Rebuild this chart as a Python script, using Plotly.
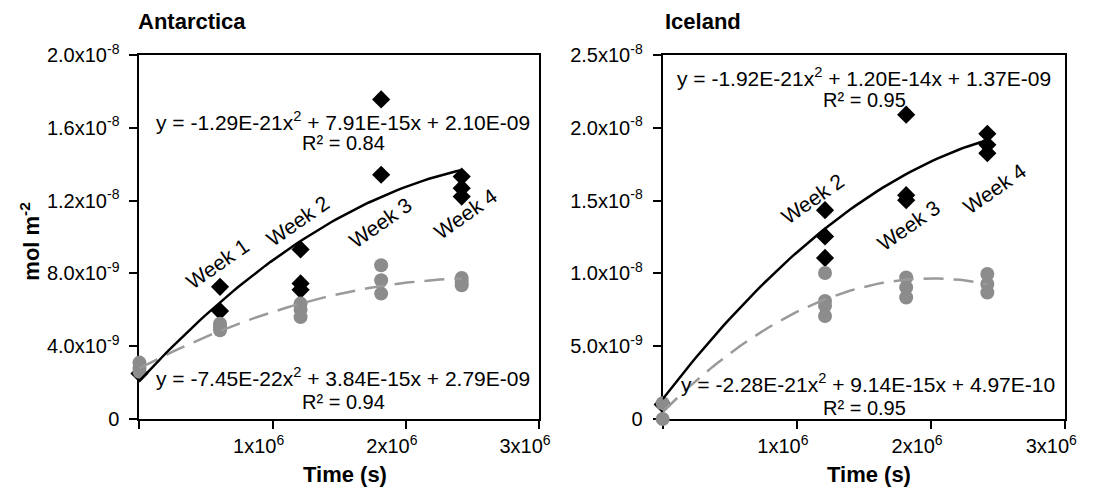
import plotly.graph_objects as go

# ---------------- data ----------------
week_time = [0, 604800, 1209600, 1814400, 2419200]

# Antarctica
ant_black_t = [0, 604800, 604800, 1209600, 1209600, 1209600, 1814400, 1814400, 2419200, 2419200, 2419200]
ant_black_y = [2.5e-9, 7.26e-9, 5.93e-9, 9.32e-9, 7.45e-9, 7.1e-9, 17.56e-9, 13.42e-9, 13.32e-9, 12.68e-9, 12.22e-9]
ant_grey_t = [0, 0, 0, 604800, 604800, 604800, 1209600, 1209600, 1209600, 1814400, 1814400, 1814400, 2419200, 2419200, 2419200]
ant_grey_y = [3.1e-9, 2.8e-9, 2.6e-9, 5.24e-9, 5.05e-9, 4.87e-9, 6.34e-9, 6.0e-9, 5.6e-9, 8.45e-9, 7.62e-9, 6.89e-9, 7.75e-9, 7.55e-9, 7.35e-9]
ant_black_fit = [-1.29e-21, 7.91e-15, 2.10e-09]
ant_grey_fit = [-7.45e-22, 3.84e-15, 2.79e-09]

# Iceland
ice_black_t = [0, 1209600, 1209600, 1209600, 1814400, 1814400, 1814400, 2419200, 2419200, 2419200]
ice_black_y = [1.0e-9, 14.34e-9, 12.54e-9, 11.06e-9, 20.9e-9, 15.37e-9, 15.03e-9, 19.59e-9, 18.83e-9, 18.26e-9]
ice_grey_t = [0, 0, 1209600, 1209600, 1209600, 1209600, 1814400, 1814400, 1814400, 2419200, 2419200, 2419200]
ice_grey_y = [1.08e-9, 0.0, 10.03e-9, 8.11e-9, 7.77e-9, 7.07e-9, 9.72e-9, 9.03e-9, 8.34e-9, 9.96e-9, 9.27e-9, 8.69e-9]
ice_black_fit = [-1.92e-21, 1.20e-14, 1.37e-09]
ice_grey_fit = [-2.28e-21, 9.14e-15, 4.97e-10]

x_tickvals = [0, 1e6, 2e6, 3e6]
x_ticktext = ["", "1x10<sup>6</sup>", "2x10<sup>6</sup>", "3x10<sup>6</sup>"]
ant_y_tickvals = [0, 4e-9, 8e-9, 1.2e-8, 1.6e-8, 2.0e-8]
ant_y_ticktext = ["0", "4.0x10<sup>-9</sup>", "8.0x10<sup>-9</sup>", "1.2x10<sup>-8</sup>",
                  "1.6x10<sup>-8</sup>", "2.0x10<sup>-8</sup>"]
ice_y_tickvals = [0, 5e-9, 1.0e-8, 1.5e-8, 2.0e-8, 2.5e-8]
ice_y_ticktext = ["0", "5.0x10<sup>-9</sup>", "1.0x10<sup>-8</sup>", "1.5x10<sup>-8</sup>",
                  "2.0x10<sup>-8</sup>", "2.5x10<sup>-8</sup>"]

ant_eq_black = "y = -1.29E-21x<sup>2</sup> + 7.91E-15x + 2.10E-09"
ant_r2_black = "R² = 0.84"
ant_eq_grey = "y = -7.45E-22x<sup>2</sup> + 3.84E-15x + 2.79E-09"
ant_r2_grey = "R² = 0.94"
ice_eq_black = "y = -1.92E-21x<sup>2</sup> + 1.20E-14x + 1.37E-09"
ice_r2_black = "R² = 0.95"
ice_eq_grey = "y = -2.28E-21x<sup>2</sup> + 9.14E-15x + 4.97E-10"
ice_r2_grey = "R² = 0.95"

FONT = "Arial, Liberation Sans, sans-serif"
GREY_M = "#8c8c8c"
GREY_L = "#9a9a9a"


def trend(coefs, n=60):
    xs = [week_time[-1] * i / (n - 1) for i in range(n)]
    ys = [coefs[0] * x * x + coefs[1] * x + coefs[2] for x in xs]
    return xs, ys


fig = go.Figure()


def add_panel(xa, ya, bt, by, gt, gy, bfit, gfit):
    fig.add_trace(go.Scatter(x=bt, y=by, mode="markers", xaxis=xa, yaxis=ya,
                             marker=dict(symbol="diamond", size=14, color="black"),
                             cliponaxis=False, showlegend=False))
    fig.add_trace(go.Scatter(x=gt, y=gy, mode="markers", xaxis=xa, yaxis=ya,
                             marker=dict(symbol="circle", size=14, color=GREY_M),
                             cliponaxis=False, showlegend=False))
    gx, gyy = trend(gfit)
    fig.add_trace(go.Scatter(x=gx, y=gyy, mode="lines", xaxis=xa, yaxis=ya,
                             line=dict(color=GREY_L, width=2.5, dash="20px,10px"),
                             showlegend=False))
    bx, byy = trend(bfit)
    fig.add_trace(go.Scatter(x=bx, y=byy, mode="lines", xaxis=xa, yaxis=ya,
                             line=dict(color="black", width=2.5), showlegend=False))


add_panel("x", "y", ant_black_t, ant_black_y, ant_grey_t, ant_grey_y, ant_black_fit, ant_grey_fit)
add_panel("x2", "y2", ice_black_t, ice_black_y, ice_grey_t, ice_grey_y, ice_black_fit, ice_grey_fit)

axis_common = dict(showgrid=False, zeroline=False, showline=True, linecolor="black", linewidth=2,
                   mirror=True, ticks="outside", ticklen=8, tickwidth=2, tickcolor="black",
                   layer="below traces",
                   tickfont=dict(family=FONT, size=20, color="black"))

fig.update_layout(
    width=1103, height=493,
    margin=dict(l=0, r=0, t=55, b=74),
    plot_bgcolor="white", paper_bgcolor="white",
    font=dict(family=FONT, color="black"),
    xaxis=dict(domain=[141 / 1103, 545 / 1103], range=[0, 3e6], tickvals=x_tickvals,
               ticktext=x_ticktext, anchor="y", ticklabelshift=-14, **axis_common),
    yaxis=dict(domain=[0, 1], range=[0, 2e-8], tickvals=ant_y_tickvals, ticktext=ant_y_ticktext,
               anchor="x", ticklabelstandoff=6, **axis_common),
    xaxis2=dict(domain=[670 / 1103, 1077 / 1103], range=[0, 3e6], tickvals=x_tickvals,
                ticktext=x_ticktext, anchor="y2", ticklabelshift=-14, **axis_common),
    yaxis2=dict(domain=[0, 1], range=[0, 2.5e-8], tickvals=ice_y_tickvals, ticktext=ice_y_ticktext,
                anchor="x2", ticklabelstandoff=6, **axis_common),
)

ann = []


def txt(xref, yref, x, y, text, size=21, bold=False, angle=0, xanchor="center"):
    t = f"<b>{text}</b>" if bold else text
    ann.append(dict(xref=xref, yref=yref, x=x, y=y, text=t, showarrow=False, textangle=angle,
                    xanchor=xanchor, yanchor="middle", borderpad=0,
                    font=dict(family=FONT, size=size, color="black")))


# week labels
for x, y, s in [(0.587e6, 8.55e-9, "Week 1"), (1.19e6, 10.93e-9, "Week 2"),
                (1.81e6, 10.79e-9, "Week 3"), (2.45e6, 11.3e-9, "Week 4")]:
    txt("x", "y", x, y, s, size=21, angle=-35)
for x, y, s in [(1.118e6, 15.16e-9, "Week 2"), (1.83e6, 13.32e-9, "Week 3"),
                (2.474e6, 15.84e-9, "Week 4")]:
    txt("x2", "y2", x, y, s, size=21, angle=-35)

# equations
txt("x", "y", 1.53e6, 16.4e-9, ant_eq_black)
txt("x", "y", 1.53e6, 15.15e-9, ant_r2_black, size=20)
txt("x", "y", 1.53e6, 2.31e-9, ant_eq_grey)
txt("x", "y", 1.53e6, 0.93e-9, ant_r2_grey, size=20)
txt("x2", "y2", 1.503e6, 23.5e-9, ice_eq_black)
txt("x2", "y2", 1.503e6, 21.9e-9, ice_r2_black, size=20)
txt("x2", "y2", 1.53e6, 2.45e-9, ice_eq_grey)
txt("x2", "y2", 1.503e6, 0.73e-9, ice_r2_grey, size=20)

# titles
txt("paper", "paper", 139 / 1103, (419 - 21) / 364, "Antarctica", size=22, bold=True, xanchor="left")
txt("paper", "paper", 671 / 1103, (419 - 21) / 364, "Iceland", size=22, bold=True, xanchor="left")
txt("paper", "paper", 349 / 1103, (419 - 475) / 364, "Time (s)", size=22, bold=True)
txt("paper", "paper", 879 / 1103, (419 - 475) / 364, "Time (s)", size=22, bold=True)
txt("paper", "paper", 30 / 1103, (419 - 242) / 364, "mol m<sup>-2</sup>", size=22, bold=True, angle=-90)

fig.update_layout(annotations=ann)
fig.write_html("out.html", config={"displayModeBar": False},
               post_script="document.body.style.margin='0px';")
